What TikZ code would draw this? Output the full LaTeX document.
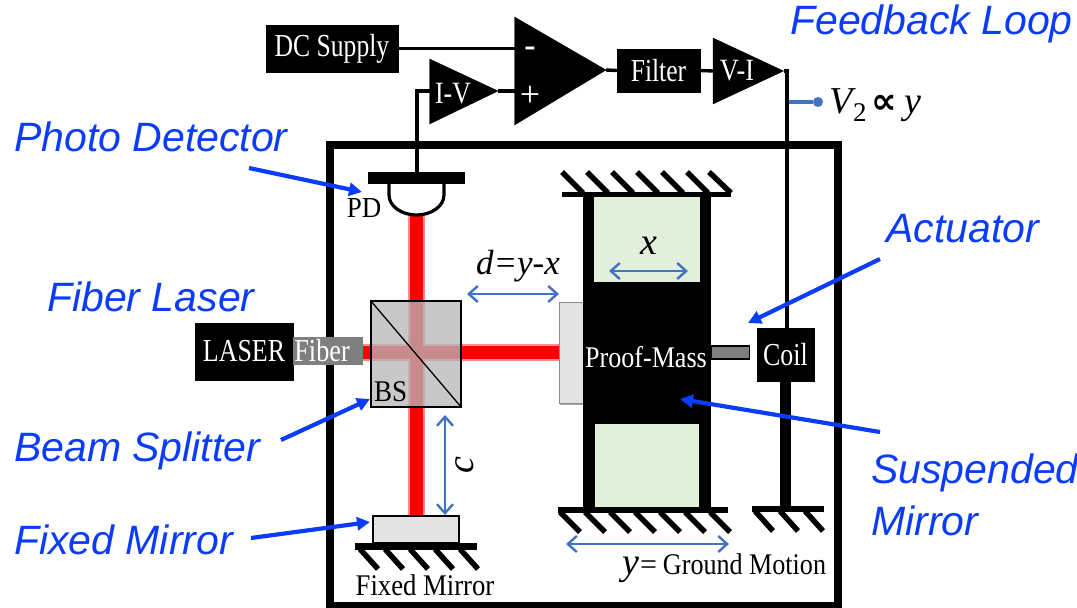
\documentclass[tikz,border=0pt]{standalone}
\usepackage{fontspec}
\setmainfont{Liberation Serif}
\newfontfamily\annfont{Liberation Sans}
\newfontfamily\symfont{DejaVu Sans}
\usetikzlibrary{arrows.meta}
\definecolor{annblue}{RGB}{10,60,250}
\definecolor{dimblue}{RGB}{68,114,196}
\definecolor{beamred}{RGB}{255,0,0}
\definecolor{greenwin}{RGB}{226,239,218}
\definecolor{mirrorgray}{RGB}{227,227,227}
\definecolor{fibergray}{RGB}{127,127,127}
\tikzset{
  x=1pt,y=-1pt,
  blackbox/.style={fill=black,draw=black,inner sep=0pt,text=white,font=\fontsize{32}{34}\selectfont},
  wire/.style={draw=black,line width=3.4pt},
  amp/.style={fill=black,draw=black},
  ground/.style={draw=black,line width=5.5pt},
  annotation/.style={text=annblue,font=\annfont\itshape\fontsize{41}{44}\selectfont,inner sep=0pt,anchor=west},
  annarrow/.style={draw=annblue,line width=4.2pt,-{Triangle[length=13pt,width=13pt]}},
  dimarrow/.style={draw=dimblue,line width=2.4pt,{Straight Barb[length=9pt,width=16pt]}-{Straight Barb[length=9pt,width=16pt]}},
  serif/.style={inner sep=0pt,font=\fontsize{30}{32}\selectfont},
  math/.style={inner sep=0pt,font=\itshape\fontsize{38}{40}\selectfont},
  beam/.style={draw=beamred,line width=13pt},
  beamglow/.style={draw=beamred!45,line width=17pt},
}
\begin{document}
\begin{tikzpicture}
\useasboundingbox (0,0) rectangle (1077,608);
% frame
\node[draw=black,line width=8pt,minimum width=508pt,minimum height=461pt,inner sep=0pt] (frame) at (584,375.5) {};
% beams
\coordinate (beamW) at (363,352);
\coordinate (beamN) at (416.5,213);
\coordinate (beamS) at (416.5,516);
\coordinate (beamE) at (559,352);
\draw[beamglow] (beamN) -- (beamS);
\draw[beamglow] (beamW) -- (beamE);
\draw[beam] (beamN) -- (beamS);
\draw[beam] (beamW) -- (beamE);
% beam splitter
\fill[fill={rgb,255:red,183;green,183;blue,183},opacity=.765] (371,301) rectangle (461,407);
\node[draw=black,line width=1.5pt,minimum width=90pt,minimum height=106pt,inner sep=0pt] (bs) at (416,354) {};
\draw[black,line width=1.3pt] (bs.north west) -- (bs.south east);
\node[serif,anchor=west] (bslabel) at (374,392) {\scalebox{.9}[1]{BS}};
% laser
\node[blackbox,minimum width=98pt,minimum height=57pt] (laser) at (244,351.5) {\scalebox{.81}[1]{LASER}};
\node[fill=fibergray,text=white,inner sep=0pt,minimum width=70pt,minimum height=28pt,anchor=west,font=\fontsize{32}{34}\selectfont,text width=68pt,align=left] (fiber) at (laser.east|-0,351) {\scalebox{.82}[1]{Fiber}};
% photodetector
\node[fill=black,minimum width=97pt,minimum height=12pt,inner sep=0pt] (pd) at (416.5,178) {};
\draw[black,line width=3.2pt,fill=white] (389,184) -- (389,195) arc[start angle=180,end angle=360,x radius=27.5pt,y radius=20pt] -- (444,184);
\node[serif,anchor=center,font=\fontsize{29}{30}\selectfont] (pdlabel) at (364,208) {\scalebox{.93}[1]{PD}};
% fixed mirror
\node[draw=black,line width=1.2pt,fill=mirrorgray,minimum width=86pt,minimum height=27pt,inner sep=0pt] (fixedm) at (416,529.5) {};
\fill[black] (355,543) rectangle (477,550);
\foreach \h in {360,385,410,435,460} \draw[ground] (\h,549) -- ++(18,20);
\node[serif,anchor=center] (fixedlabel) at (425,585) {\scalebox{.89}[1]{Fixed Mirror}};
% side mirror
\fill[black!35] (560,304) rectangle (584,405);
\node[draw=black!45,line width=1pt,fill=mirrorgray,minimum width=24pt,minimum height=101pt,inner sep=0pt] (sidem) at (571,352.5) {};
% proof mass
\node[fill=black,minimum width=128pt,minimum height=311pt,inner sep=0pt] (mass) at (647,352.5) {};
\node[fill=greenwin,minimum width=106pt,minimum height=85pt,inner sep=0pt] (wintop) at (647,239.5) {};
\node[fill=greenwin,minimum width=104pt,minimum height=84pt,inner sep=0pt] (winbot) at (647,466) {};
\node[text=white,inner sep=0pt,font=\fontsize{30}{32}\selectfont] (masslabel) at (646,357) {\scalebox{.87}[1]{Proof-Mass}};
\fill[black] (562,192) rectangle (731,197);
\foreach \h in {562,587,612,637,662,687} \draw[ground] (\h,172) -- ++(21,21);
\draw[ground] (709,172) -- (731,193);
\fill[black] (558,507) rectangle (728,513);
\foreach \h in {560,585,610,635,660,685,710} \draw[ground] (\h,512) -- ++(20,20);
% rod and coil
\node[draw=black,line width=1.2pt,fill=fibergray,minimum width=38pt,minimum height=13pt,inner sep=0pt,anchor=west] (rod) at (711,352.5) {};
\node[blackbox,minimum width=57pt,minimum height=53pt] (coil) at (785.5,354.5) {\scalebox{.81}[1]{Coil}};
\fill[black] (752,506) rectangle (824,512);
\coordinate (coilbase) at (785.5,507);
\draw[draw=black,line width=11pt] (coil.south) -- (coilbase);
\foreach \h in {755,780,805} \draw[ground] (\h,511) -- ++(18,20);
% feedback electronics
\node[blackbox,minimum width=132pt,minimum height=47pt] (dc) at (332,48.5) {\scalebox{.8}[1]{DC Supply}};
\draw[amp] (514.5,17) coordinate (ampnw) -- (606,70) coordinate (amptip) -- (514.5,125) coordinate (ampsw) -- cycle;
\coordinate (ampminus) at (514.5,48.5);
\coordinate (ampplus) at (514.5,91);
\node[text=white,inner sep=0pt,font=\bfseries\fontsize{34}{34}\selectfont] (minus) at (530,52) {-};
\node[text=white,inner sep=0pt,font=\fontsize{36}{36}\selectfont] (plus) at (530,96) {+};
\draw[amp] (429.5,59) coordinate (ivnw) -- (498,91) coordinate (ivtip) -- (429.5,124) coordinate (ivsw) -- cycle;
\coordinate (ivin) at (429.5,91);
\node[text=white,inner sep=0pt,font=\fontsize{31}{32}\selectfont] (ivlabel) at (453,94) {\scalebox{.83}[1]{I-V}};
\node[blackbox,minimum width=83pt,minimum height=43pt] (filter) at (658.5,70.5) {\scalebox{.8}[1]{Filter}};
\draw[amp] (713,38) coordinate (vinw) -- (783.5,71) coordinate (vitip) -- (713,104) coordinate (visw) -- cycle;
\coordinate (viin) at (713,71);
\node[text=white,inner sep=0pt,font=\fontsize{31}{32}\selectfont] (vilabel) at (737,71) {\scalebox{.85}[1]{V-I}};
\coordinate (coilwire) at (787,71);
\coordinate (pdwire) at (417,91);
\draw[wire] (dc.east) -- (ampminus);
\draw[wire] (ivtip) -- (ampplus);
\draw[wire] (ivin) -- (pdwire) -- (pdwire|-pd.north);
\draw[wire] (amptip) -- (filter.west);
\draw[wire] (filter.east) -- (viin);
\draw[wire] (vitip) -- (coilwire) -- (coilwire|-coil.north);
% V2 tap
\coordinate (tap) at (789,102);
\node[circle,fill=dimblue,minimum size=10pt,inner sep=0pt] (vdot) at (818,102) {};
\draw[draw=dimblue,line width=3.5pt] (tap) -- (vdot);
\node[inner sep=0pt,anchor=west,font=\fontsize{38}{40}\selectfont] (vlabel) at (829,105) {\textit{V}\kern-3pt\raisebox{-8pt}{\fontsize{27}{27}\selectfont 2}\kern5pt{\symfont\bfseries\fontsize{36}{36}\selectfont ∝}\kern7pt\textit{y}};
% dimensions
\coordinate (dL) at (467,294); \coordinate (dR) at (559,294);
\draw[dimarrow] (dL) -- (dR);
\node[math,font=\itshape\fontsize{35}{37}\selectfont] (dlabel) at (518,266) {d=y-x};
\coordinate (cT) at (445,415); \coordinate (cB) at (445,515);
\draw[dimarrow] (cT) -- (cB);
\node[math,rotate=90] (clabel) at (465,465) {c};
\coordinate (xL) at (609,271); \coordinate (xR) at (688,271);
\draw[dimarrow] (xL) -- (xR);
\node[math] (xlabel) at (649,246) {x};
\coordinate (yL) at (566,544); \coordinate (yR) at (729,544);
\draw[dimarrow] (yL) -- (yR);
\node[inner sep=0pt,anchor=west,font=\fontsize{30}{32}\selectfont] (ylabel) at (622,568) {{\itshape\fontsize{38}{38}\selectfont y}\kern1pt=\kern6pt\scalebox{.87}[1]{Ground Motion}};
% annotations
\node[annotation] (afeed) at (790,24) {Feedback Loop};
\node[annotation] (aphoto) at (14,137) {Photo Detector};
\node[annotation] (afiber) at (47,297) {Fiber Laser};
\node[annotation] (abeam) at (14,451) {Beam Splitter};
\node[annotation] (afixed) at (14,540) {Fixed Mirror};
\node[annotation] (aact) at (886,229) {Actuator};
\node[annotation] (asus) at (871,473) {Suspended};
\node[annotation] (amir) at (871,521) {Mirror};
\coordinate (tphoto) at (362,192);
\coordinate (tbeam) at (370,399);
\coordinate (tfixed) at (370,522);
\coordinate (tact) at (748,323);
\coordinate (tsus) at (680,399);
\coordinate (sphoto) at (249,168);
\coordinate (sbeam) at (281,440);
\coordinate (sfixed) at (251,538);
\coordinate (sact) at (880,259);
\coordinate (ssus) at (880,432);
\draw[annarrow] (sphoto) -- (tphoto);
\draw[annarrow] (sbeam) -- (tbeam);
\draw[annarrow] (sfixed) -- (tfixed);
\draw[annarrow] (sact) -- (tact);
\draw[annarrow] (ssus) -- (tsus);
\end{tikzpicture}
\end{document}
